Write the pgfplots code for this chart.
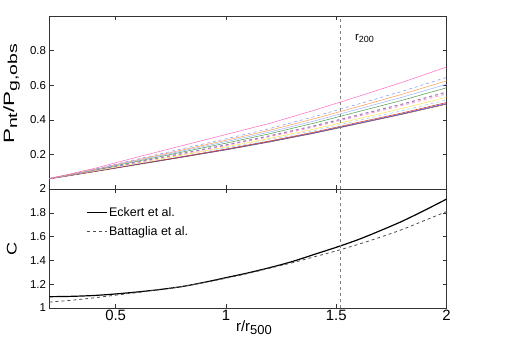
\documentclass[border=0pt]{standalone}
\usepackage{fontspec}
\setmainfont{Liberation Sans}
\usepackage{pgfplots}
\pgfplotsset{compat=1.18}
\usepackage{pgfplotstable}

% MATLAB-like subscript: #1 size, #2 text
\newcommand{\msub}[2]{\raisebox{-0.4ex}{\fontsize{#1}{#1}\selectfont #2}}

% P_nt / P_g,obs curves for the different models
\pgfplotstableread{
x    c1    c2    c3    c4    c5    c6    c7    c8    c9    c10   c11   c12
0.2  0.060 0.060 0.060 0.060 0.060 0.060 0.060 0.060 0.060 0.060 0.060 0.058
0.4  0.118 0.113 0.112 0.110 0.108 0.106 0.105 0.104 0.103 0.102 0.101 0.099
0.6  0.185 0.173 0.169 0.165 0.161 0.156 0.154 0.150 0.147 0.144 0.143 0.141
0.8  0.250 0.232 0.225 0.219 0.213 0.205 0.202 0.196 0.192 0.187 0.185 0.183
1.0  0.315 0.290 0.282 0.274 0.265 0.255 0.251 0.243 0.237 0.231 0.228 0.226
1.2  0.380 0.350 0.340 0.330 0.320 0.308 0.303 0.293 0.286 0.278 0.275 0.272
1.4  0.455 0.418 0.406 0.393 0.381 0.365 0.359 0.347 0.338 0.329 0.325 0.322
1.6  0.535 0.491 0.476 0.462 0.447 0.428 0.421 0.406 0.396 0.385 0.380 0.377
1.8  0.617 0.565 0.548 0.531 0.513 0.491 0.483 0.466 0.453 0.440 0.435 0.432
2.0  0.705 0.645 0.625 0.605 0.585 0.560 0.550 0.530 0.515 0.500 0.494 0.490
}\pnt

% correction factor C
\pgfplotstableread{
x    eck   bat
0.2  1.095 1.050
0.3  1.098 1.065
0.4  1.105 1.085
0.5  1.118 1.108
0.6  1.135 1.130
0.7  1.155 1.155
0.8  1.180 1.180
0.9  1.215 1.213
1.0  1.255 1.250
1.1  1.295 1.290
1.2  1.340 1.335
1.3  1.390 1.380
1.4  1.450 1.430
1.5  1.510 1.480
1.6  1.575 1.535
1.7  1.650 1.595
1.8  1.730 1.660
1.9  1.820 1.735
2.0  1.915 1.810
}\corr

\definecolor{cpink}{rgb}{1,0.4,0.75}
\definecolor{cdblue}{rgb}{0.55,0.6,1}
\definecolor{corange}{rgb}{1,0.6,0.3}
\definecolor{clblue}{rgb}{0.6,0.7,1}
\definecolor{cgreen}{rgb}{0.3,0.6,0.3}
\definecolor{cpurple}{rgb}{0.65,0.5,0.75}
\definecolor{cpinkd}{rgb}{1,0.6,0.85}
\definecolor{cyellow}{rgb}{1,0.9,0.4}
\definecolor{clblued}{rgb}{0.6,0.8,1}
\definecolor{cred}{rgb}{0.85,0.2,0.1}
\definecolor{cblue}{rgb}{0.2,0.2,0.9}
\definecolor{cbrown}{rgb}{0.5,0.3,0.1}

\pgfplotsset{
  mlab/.style={
    scale only axis,
    width=397bp,
    xmin=0.2, xmax=2,
    xtick={0.5,1,1.5,2},
    tick align=inside,
    major tick length=4bp,
    tick style={black!80,line width=0.4pt},
    axis line style={black!80,line width=0.5pt},
    /pgf/number format/assume math mode=true,
    yticklabel style={font=\fontsize{11.5}{12}\selectfont},
    xticklabel style={font=\fontsize{15}{16}\selectfont, yshift=1bp},
    clip=true,
  }
}

\begin{document}
\begin{tikzpicture}
\path[use as bounding box] (0,0) rectangle (529bp,352bp);

\begin{axis}[mlab,
  at={(49.5bp,163bp)}, anchor=south west,
  height=173bp,
  ymin=0, ymax=1,
  ytick={0.2,0.4,0.6,0.8},
  xticklabels={},
  ylabel={\scalebox{1.5}[1]{P\msub{13}{nt}/P\msub{13}{g,obs}}},
  ylabel style={font=\fontsize{15}{16}\selectfont, inner sep=0pt,
    at={(axis description cs:-0.117,0.55)}, anchor=north},
]
\addplot[cbrown, line width=0.5pt] table[x=x,y=c12] {\pnt};
\addplot[cblue, line width=0.5pt] table[x=x,y=c11] {\pnt};
\addplot[cred, line width=0.5pt] table[x=x,y=c10] {\pnt};
\addplot[clblued, dashed, line width=0.6pt] table[x=x,y=c9] {\pnt};
\addplot[cyellow, line width=0.6pt] table[x=x,y=c8] {\pnt};
\addplot[cpinkd, dashed, line width=0.9pt] table[x=x,y=c7] {\pnt};
\addplot[cpurple, dashed, line width=1.1pt] table[x=x,y=c6] {\pnt};
\addplot[cgreen, line width=0.5pt] table[x=x,y=c5] {\pnt};
\addplot[clblue, line width=0.5pt] table[x=x,y=c4] {\pnt};
\addplot[corange, line width=0.5pt] table[x=x,y=c3] {\pnt};
\addplot[cdblue, dashed, line width=0.6pt] table[x=x,y=c2] {\pnt};
\addplot[cpink, line width=0.5pt] table[x=x,y=c1] {\pnt};
\addplot[gray, dashed, line width=0.8pt] coordinates {(1.52,0) (1.52,1)};
\node[anchor=base west, inner sep=0pt, font=\fontsize{11.5}{12}\selectfont]
  at (axis cs:1.585,0.86) {r\msub{9}{200}};
\end{axis}

\begin{axis}[mlab,
  at={(49.5bp,44bp)}, anchor=south west,
  height=119bp,
  ymin=1, ymax=2,
  ytick={1,1.2,1.4,1.6,1.8,2},
  yticklabel style={/pgf/number format/.cd, fixed, precision=1},
  xlabel={r/r\msub{13}{500}},
  xlabel style={font=\fontsize{15}{16}\selectfont, inner sep=0pt,
    at={(axis description cs:0.515,-0.105)}, anchor=north},
  ylabel={\scalebox{1.3}[1]{C}},
  ylabel style={font=\fontsize{14}{15}\selectfont, inner sep=0pt,
    at={(axis description cs:-0.108,0.5)}, anchor=north},
  legend style={draw=none, fill=none, at={(0.085,0.875)}, anchor=north west,
    font=\fontsize{12.5}{13}\selectfont, row sep=5bp,
    nodes={inner sep=1.5bp}},
  legend image code/.code={\draw[#1] (0bp,0bp) -- (20bp,0bp);},
  legend cell align=left,
]
\addplot[black, line width=1.2pt, smooth] table[x=x,y=eck] {\corr};
\addlegendentry{Eckert et al.}
\addplot[black!70, dashed, line width=0.8pt, smooth] table[x=x,y=bat] {\corr};
\addlegendentry{Battaglia et al.}
\addplot[gray, dashed, line width=0.6pt, forget plot] coordinates {(1.52,1) (1.52,2)};
\end{axis}
\end{tikzpicture}
\end{document}
